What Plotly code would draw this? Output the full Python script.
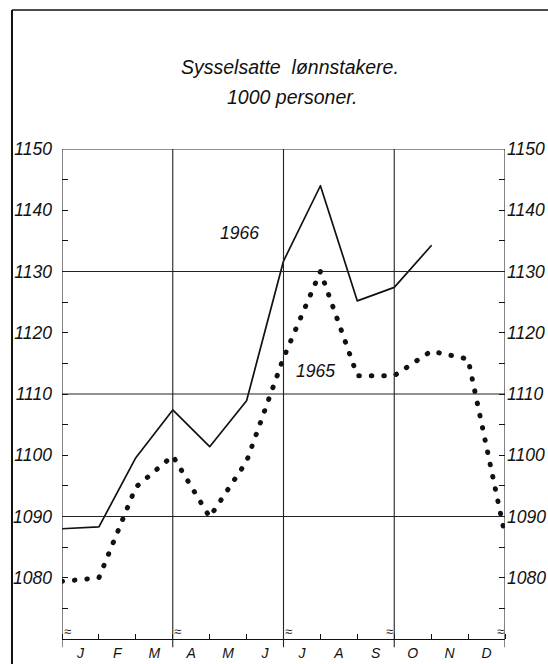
import plotly.graph_objects as go

# ---- data ----
months = ["J", "F", "M", "A", "M", "J", "J", "A", "S", "O", "N", "D"]
x_1965 = [0, 1, 2, 3, 4, 5, 6, 7, 8, 9, 10, 11, 12]
v_1965 = [1079.4, 1080.0, 1094.8, 1099.9, 1089.9, 1099.0, 1115.9, 1130.0,
          1113.0, 1113.0, 1117.0, 1115.7, 1087.0]
x_1966 = [0, 1, 2, 3, 4, 5, 6, 7, 8, 9, 10]
v_1966 = [1088.0, 1088.3, 1099.6, 1107.4, 1101.4, 1108.9, 1131.7, 1144.0,
          1125.2, 1127.4, 1134.2]
y_labels = [1080, 1090, 1100, 1110, 1120, 1130, 1140, 1150]
grid_y = [1090, 1110, 1130, 1150]
quarter_x = [0, 3, 6, 9, 12]
title1 = "Sysselsatte  lønnstakere."
title2 = "1000 personer."

FONT = "Liberation Sans, Arial, sans-serif"
INK = "#111111"

fig = go.Figure()
fig.add_trace(go.Scatter(
    x=x_1965, y=v_1965, mode="lines", name="1965",
    line=dict(color=INK, width=5, dash="0.5px,12px"),
    hoverinfo="skip", showlegend=False))
fig.add_trace(go.Scatter(
    x=x_1966, y=v_1966, mode="lines", name="1966",
    line=dict(color=INK, width=1.7),
    hoverinfo="skip", showlegend=False))
# invisible trace to activate right axis
fig.add_trace(go.Scatter(x=[0], y=[1150], yaxis="y2", mode="markers",
                         marker=dict(opacity=0), hoverinfo="skip", showlegend=False))

tickfont = dict(family=FONT, size=17.5, color=INK, style="italic")

fig.update_layout(
    template="none",
    width=548, height=664,
    margin=dict(l=62, r=43, t=149, b=25, autoexpand=False),
    paper_bgcolor="white", plot_bgcolor="white",
    xaxis=dict(range=[0, 12], showgrid=False, zeroline=False, automargin=False,
               showline=True, linecolor=INK, linewidth=1.3,
               tickmode="array", tickvals=[i + 0.5 for i in range(12)],
               ticktext=months, ticks="", ticklabelstandoff=1,
               tickfont=dict(family=FONT, size=14, color=INK, style="italic"),
               minor=dict(tickmode="array", tickvals=list(range(13)),
                          ticks="inside", ticklen=5, tickcolor=INK, tickwidth=1)),
    yaxis=dict(range=[1070, 1150], showgrid=False, zeroline=False, automargin=False,
               showline=False, tickmode="array", tickvals=y_labels,
               ticks="inside", ticklen=6, tickcolor=INK, tickwidth=1,
               ticklabelstandoff=9, tickfont=tickfont,
               minor=dict(dtick=5, tick0=1070, ticks="inside", ticklen=6,
                          tickcolor=INK, tickwidth=1)),
    yaxis2=dict(range=[1070, 1150], overlaying="y", side="right", automargin=False,
                showgrid=False, zeroline=False, showline=False,
                tickmode="array", tickvals=y_labels,
                ticks="inside", ticklen=6, tickcolor=INK, tickwidth=1,
                ticklabelstandoff=1, tickfont=tickfont,
                minor=dict(dtick=5, tick0=1070, ticks="inside", ticklen=6,
                           tickcolor=INK, tickwidth=1)),
)

shapes = []
for gy in grid_y:
    shapes.append(dict(type="line", xref="x", yref="y", x0=0, x1=12, y0=gy, y1=gy,
                       line=dict(color="#222222", width=1)))
for qx in quarter_x:
    shapes.append(dict(type="line", xref="x", yref="paper", x0=qx, x1=qx,
                       y0=-0.017, y1=1, line=dict(color="#222222", width=1.1)))
# outer frame (top and left edges visible)
shapes.append(dict(type="line", xref="paper", yref="paper", x0=-0.1129, x1=1.2,
                   y0=1.2837, y1=1.2837, line=dict(color=INK, width=1.3)))
shapes.append(dict(type="line", xref="paper", yref="paper", x0=-0.1129, x1=-0.1129,
                   y0=1.2837, y1=-0.1, line=dict(color=INK, width=2)))
fig.update_layout(shapes=shapes)

ann = [
    dict(text=title1, xref="paper", yref="paper", x=0.5147, y=1.1673,
         showarrow=False, xanchor="center", yanchor="middle",
         font=dict(family=FONT, size=19.5, color=INK, style="italic")),
    dict(text=title2, xref="paper", yref="paper", x=0.519, y=1.1061,
         showarrow=False, xanchor="center", yanchor="middle",
         font=dict(family=FONT, size=19.5, color=INK, style="italic")),
    dict(text="1966", xref="x", yref="y", x=4.82, y=1136.3, showarrow=False,
         font=dict(family=FONT, size=17.5, color=INK, style="italic")),
    dict(text="1965", xref="x", yref="y", x=6.86, y=1113.8, showarrow=False,
         font=dict(family=FONT, size=17.5, color=INK, style="italic")),
]
for qx, sh in zip(quarter_x, [5, 5, 5, -5, -5]):
    ann.append(dict(text="≈", xref="x", yref="y", x=qx, y=1071.3, xshift=sh,
                    showarrow=False, font=dict(family=FONT, size=13, color=INK)))
fig.update_layout(annotations=ann)

post = ("document.body.style.margin='0';document.body.style.overflow='hidden';"
        "var gd=document.getElementById('{plot_id}');"
        "gd.querySelectorAll('.scatterlayer path.js-line').forEach(function(p){"
        "p.style.strokeLinecap='round';p.style.strokeLinejoin='round';});")
fig.write_html("out.html", post_script=post, config={"displayModeBar": False})
